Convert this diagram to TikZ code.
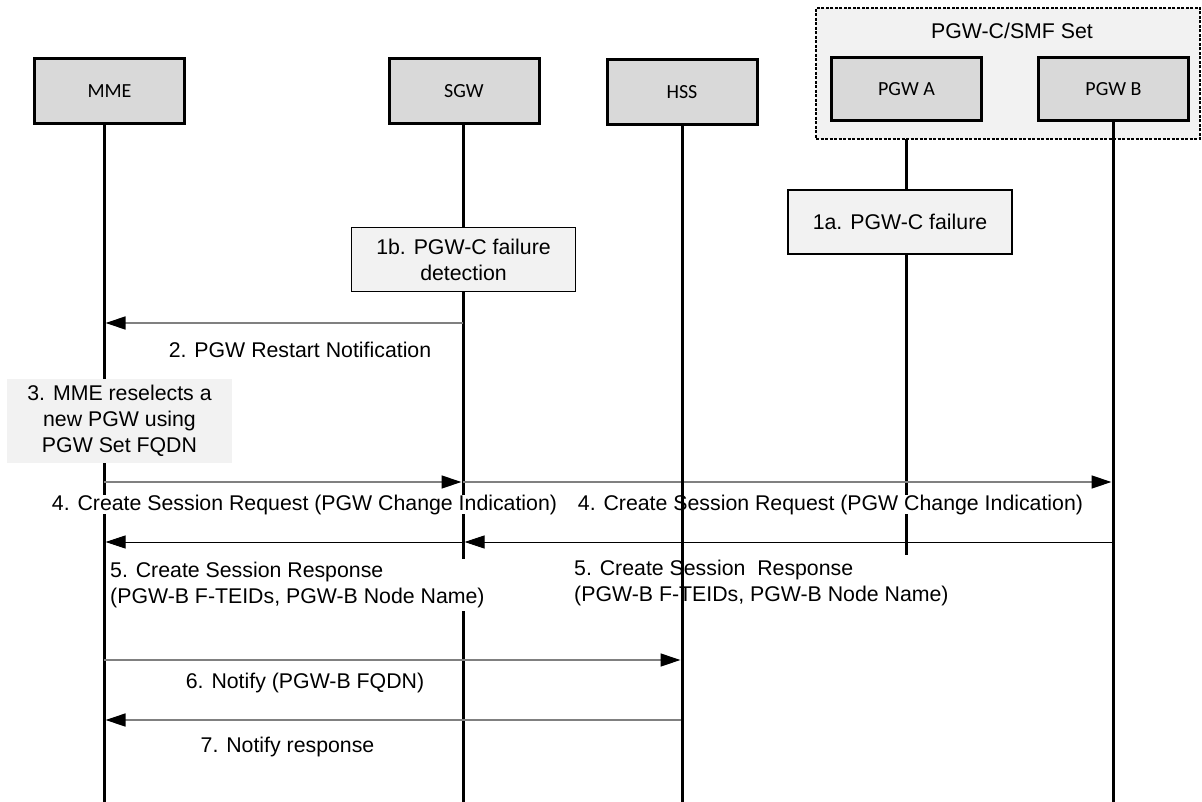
\documentclass[tikz,border=0pt]{standalone}
\usepackage{fontspec}
\setmainfont{Liberation Sans}
\newfontfamily\hdrfont{Carlito}
\usetikzlibrary{arrows.meta}
\definecolor{hdrfill}{HTML}{D9D9D9}
\definecolor{boxfill}{HTML}{F2F2F2}
\definecolor{msgline}{HTML}{808080}
\begin{document}
\begin{tikzpicture}[x=1pt,y=-1pt,
  txt/.style={font=\fontsize{21.3}{26}\selectfont},
  hdr/.style={draw, line width=3pt, fill=hdrfill, minimum width=150pt, minimum height=65pt, inner sep=0pt, font=\hdrfont\fontsize{20}{24}\selectfont},
  setbox/.style={draw, line width=1.3pt, dash pattern=on 3pt off 1.5pt, fill=boxfill, minimum width=384pt, minimum height=131pt, inner sep=0pt},
  stepbox/.style={draw, line width=1.6pt, fill=boxfill, minimum width=224pt, minimum height=64pt, inner sep=0pt, align=center, txt},
  notebox/.style={fill=boxfill, minimum width=225pt, minimum height=84pt, inner sep=0pt, align=center, txt},
  life/.style={line width=3pt},
  msg/.style={draw=msgline, line width=1.3pt, -{Triangle[length=20pt,width=13pt,color=black]}, shorten >=1.5pt},
  msgb/.style={draw=black, line width=1pt, -{Triangle[length=20pt,width=13pt,color=black]}, shorten >=1.5pt},
  lbl/.style={txt, inner sep=0pt},
  wlbl/.style={txt, inner sep=0pt, fill=white}
]
\useasboundingbox (0,0) rectangle (1202,802);

% PGW set
\node[setbox] (set) at (1008,73.5) {};
\node[txt, anchor=base] (setlbl) at (1012,39) {PGW-C/SMF Set};

% lifeline coordinates
\coordinate (mmetop) at (104,125);
\coordinate (mmebot) at (104,802);
\coordinate (sgwtop) at (463,125);
\coordinate (sgwbot) at (463,802);
\coordinate (hsstop) at (682,126);
\coordinate (hssbot) at (682,802);
\coordinate (pgwatop) at (906,139);
\coordinate (pgwabot) at (906,555);
\coordinate (pgwbtop) at (1113,122);
\coordinate (pgwbbot) at (1113,802);

\draw[life] (mmetop) -- (mmebot);
\draw[life] (sgwtop) -- (sgwbot);
\draw[life] (pgwatop) -- (pgwabot);

% headers
\node[hdr] (mme) at (109.5,91) {MME};
\node[hdr] (sgw) at (464,91) {SGW};
\node[hdr] (hss) at (682,92.5) {HSS};
\node[hdr, minimum height=63pt] (pgwa) at (906.5,89) {PGW A};
\node[hdr, minimum height=63pt] (pgwb) at (1113.5,89) {PGW B};

% step boxes
\node[stepbox] (s1a) at (900,222) {1a. PGW-C failure};
\node[stepbox] (s1b) at (463.5,259.5) {1b. PGW-C failure\\detection};
\node[notebox] (s3) at (119.5,421) {3. MME reselects a\\new PGW using\\PGW Set FQDN};

% message coordinates
\coordinate (sgw2) at (463,323);
\coordinate (mme2) at (104,323);
\coordinate (mme4) at (104,482);
\coordinate (sgw4) at (463,482);
\coordinate (pgwb4) at (1113,482);
\coordinate (pgwb5) at (1113,542);
\coordinate (sgw5) at (463,542);
\coordinate (mme5) at (104,542);
\coordinate (mme6) at (104,660);
\coordinate (hss6) at (682,660);
\coordinate (hss7) at (682,720);
\coordinate (mme7) at (104,720);

\draw[msg] (sgw2) -- (mme2);
\draw[msg] (mme4) -- (sgw4);
\draw[msg] (sgw4) -- (pgwb4);
\draw[msgb] (pgwb5) -- (sgw5);
\draw[msgb] (sgw5) -- (mme5);
\draw[msg] (mme6) -- (hss6);
\draw[msg] (hss7) -- (mme7);

% labels
\node[lbl, anchor=base] (l2) at (300,357) {2. PGW Restart Notification};
\node[wlbl, anchor=base] (l4a) at (304.5,510) {4. Create Session Request (PGW Change Indication)};
\node[wlbl, anchor=base] (l4b) at (830.5,510) {4. Create Session Request (PGW Change Indication)};
\node[wlbl, anchor=base west] (l5a) at (110,577) {\begin{tabular}[t]{@{}l@{}}5. Create Session Response\\(PGW-B F-TEIDs, PGW-B Node Name)\end{tabular}};
\node[lbl, anchor=base west] (l5b) at (574,575) {\begin{tabular}[t]{@{}l@{}}5. Create Session~ Response\\(PGW-B F-TEIDs, PGW-B Node Name)\end{tabular}};
\node[lbl, anchor=base] (l6) at (305,688) {6. Notify (PGW-B FQDN)};
\node[lbl, anchor=base] (l7) at (287.5,752) {7. Notify response};

% lifelines drawn over labels
\draw[life] (hsstop) -- (hssbot);
\draw[life] (pgwbtop) -- (pgwbbot);
\end{tikzpicture}
\end{document}
